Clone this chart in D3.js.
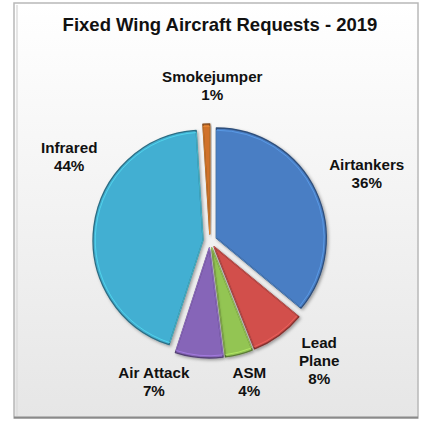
<!DOCTYPE html>
<html>
<head>
<meta charset="utf-8">
<script src="https://cdn.jsdelivr.net/npm/d3@7/dist/d3.min.js"></script>
<style>
  html, body { margin: 0; padding: 0; background: #ffffff; }
  svg { display: block; }
  text { font-family: "Liberation Sans", Arial, sans-serif; font-weight: bold; fill: #111; }
</style>
</head>
<body>
<svg id="chart" width="422" height="421"></svg>
<script>
// ---- data ----
const title = "Fixed Wing Aircraft Requests - 2019";
const categories = ["Airtankers", "Lead Plane", "ASM", "Air Attack", "Infrared", "Smokejumper"];
const values = [36, 8, 4, 7, 44, 1];
const labelLines = [["Airtankers", "36%"], ["Lead", "Plane", "8%"], ["ASM", "4%"], ["Air Attack", "7%"], ["Infrared", "44%"], ["Smokejumper", "1%"]];
const colors = ["#4a7ec4", "#d24f4b", "#93c553", "#8665b8", "#43afd2", "#d0722a"];

// ---- layout ----
const W = 422, H = 421;
const cx = 210, cy = 241, R = 110, explode = 7;
const labelR = 150;
// offsets of label block (x centre, first baseline) from the point at labelR on the slice mid-angle
const labelOffsets = [[21, -7], [21, -14], [2, -8], [-42, -12], [8, -69], [7, -9]];
const lineH = 18;

const svg = d3.select("#chart");
const defs = svg.append("defs");

const bg = defs.append("linearGradient").attr("id", "bg").attr("x1", 0).attr("y1", 0).attr("x2", 0).attr("y2", 1);
bg.append("stop").attr("offset", "0%").attr("stop-color", "#ffffff");
bg.append("stop").attr("offset", "100%").attr("stop-color", "#e6e6e6");

const shadow = defs.append("filter").attr("id", "shadow").attr("x", "-20%").attr("y", "-20%").attr("width", "140%").attr("height", "140%");
shadow.append("feDropShadow").attr("dx", 1.5).attr("dy", 1.5).attr("stdDeviation", 1.5)
  .attr("flood-color", "#000").attr("flood-opacity", 0.35);

// frame
svg.append("rect").attr("x", 14).attr("y", 3).attr("width", 404).attr("height", 415)
  .attr("fill", "url(#bg)").attr("stroke", "#b8b8b8").attr("stroke-width", 1.5);
svg.append("line").attr("x1", 14).attr("x2", 418).attr("y1", 417.5).attr("y2", 417.5)
  .attr("stroke", "#8a8a8a").attr("stroke-width", 2);
svg.append("line").attr("x1", 17).attr("x2", 17).attr("y1", 5).attr("y2", 416)
  .attr("stroke", "#dcdcdc").attr("stroke-width", 1.5);

// title
svg.append("text").attr("x", 220).attr("y", 31).attr("text-anchor", "middle")
  .attr("font-size", 18.5).text(title);

// pie
const pie = d3.pie().sort(null).startAngle(0).endAngle(2 * Math.PI)(values);
const arc = d3.arc().innerRadius(0).outerRadius(R);
const innerArc = d3.arc().innerRadius(0).outerRadius(R - 2.2);

const g = svg.append("g").attr("transform", `translate(${cx},${cy})`);
const slices = g.selectAll("g.slice").data(pie).join("g").attr("class", "slice")
  .attr("transform", d => {
    const a = (d.startAngle + d.endAngle) / 2;
    return `translate(${explode * Math.sin(a)},${-explode * Math.cos(a)})`;
  });

slices.append("path").attr("d", arc)
  .attr("fill", (d, i) => colors[i])
  .attr("stroke", (d, i) => d3.color(colors[i]).darker(1.3))
  .attr("stroke-width", 1.3)
  .attr("stroke-linejoin", "round")
  .attr("filter", "url(#shadow)");

// bevel-like inner highlight
slices.append("path").attr("d", innerArc)
  .attr("fill", "none")
  .attr("stroke", (d, i) => d3.color(colors[i]).brighter(0.9))
  .attr("stroke-width", 1)
  .attr("stroke-opacity", 0.55);

// labels
const labels = svg.append("g");
pie.forEach((d, i) => {
  const a = (d.startAngle + d.endAngle) / 2;
  const px = cx + labelR * Math.sin(a) + labelOffsets[i][0];
  const py = cy - labelR * Math.cos(a) + labelOffsets[i][1];
  const t = labels.append("text").attr("text-anchor", "middle").attr("font-size", 15.2);
  labelLines[i].forEach((ln, k) => {
    t.append("tspan").attr("x", px).attr("y", py + k * lineH).text(ln);
  });
});
</script>
</body>
</html>
